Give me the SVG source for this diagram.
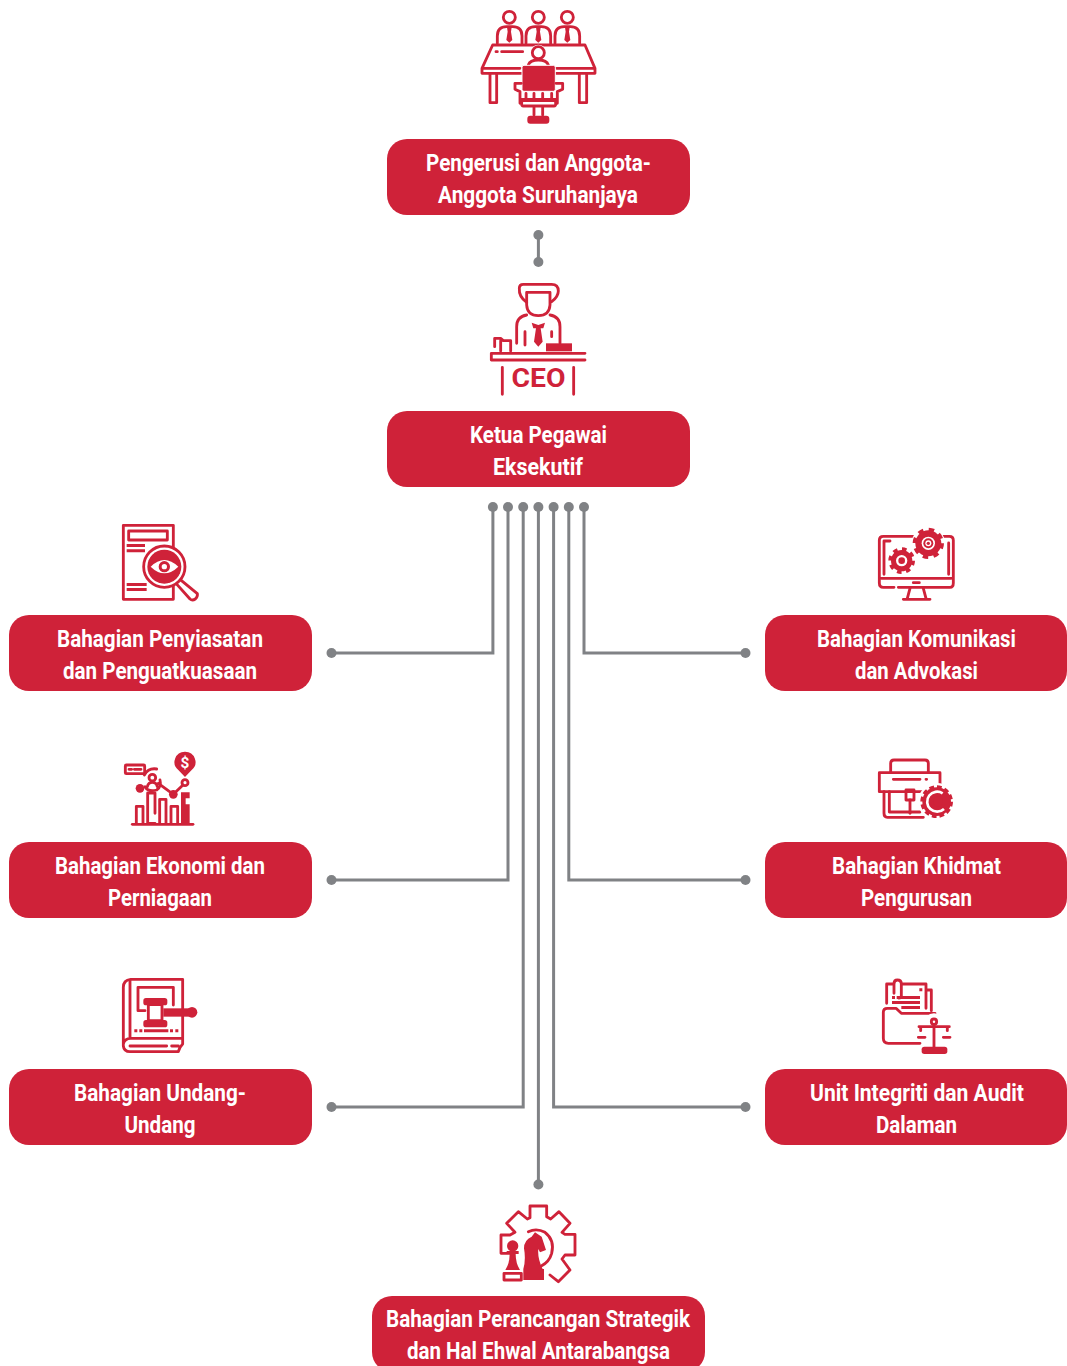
<svg xmlns="http://www.w3.org/2000/svg" width="1067" height="1366" viewBox="0 0 1067 1366">
<style>
.box{fill:#cf2239}
.t{font-family:Roboto,"Liberation Sans",sans-serif;font-weight:700;font-size:24px;fill:#fff;text-anchor:middle}
.c{fill:none;stroke:#808285;stroke-width:3}
.d{fill:#808285}
.i{fill:none;stroke:#cf2239;stroke-width:8.5;stroke-linejoin:round;stroke-linecap:round}
.f{fill:#cf2239}
.w{fill:#fff}
.wi{fill:#fff;stroke:#cf2239;stroke-width:8.5;stroke-linejoin:round}
</style>
<rect width="1067" height="1366" fill="#fff"/>
<g id="connectors">
<path class="c" d="M538.4 235V262M492.9 507V653H331.5M508 507V880H331.5M523.2 507V1107H331.5M538.4 507V1184.5M553.6 507V1107H745.5M568.8 507V880H745.5M584 507V653H745.5"/>
<g class="d">
<circle cx="538.4" cy="235" r="5"/><circle cx="538.4" cy="262" r="5"/>
<circle cx="492.9" cy="507" r="5"/><circle cx="508" cy="507" r="5"/><circle cx="523.2" cy="507" r="5"/><circle cx="538.4" cy="507" r="5"/><circle cx="553.6" cy="507" r="5"/><circle cx="568.8" cy="507" r="5"/><circle cx="584" cy="507" r="5"/>
<circle cx="331.5" cy="653" r="5"/><circle cx="331.5" cy="880" r="5"/><circle cx="331.5" cy="1107" r="5"/>
<circle cx="745.5" cy="653" r="5"/><circle cx="745.5" cy="880" r="5"/><circle cx="745.5" cy="1107" r="5"/>
<circle cx="538.4" cy="1184.5" r="5"/>
</g>
</g>
<g id="node-pengerusi">
<g transform="translate(470 0) scale(.3333)">
<circle class="i" cx="118" cy="52" r="18"/><circle class="i" cx="205" cy="52" r="18"/><circle class="i" cx="292" cy="52" r="18"/>
<path class="i" d="M82 130V108Q82 80 110 80H128Q156 80 156 108V130M168 130V108Q168 80 196 80H214Q242 80 242 108V130M255 130V108Q255 80 283 80H301Q329 80 329 108V130"/>
<path class="f" d="M111 82H125L123 95L127 120L118 128L109 120L113 95ZM198 82H212L210 95L214 120L205 128L196 120L200 95ZM285 82H299L297 95L301 120L292 128L283 120L287 95Z"/>
<path class="i" d="M68 135H345L375 205V220H36V205ZM36 205H150M260 205H372"/>
<path class="i" d="M60 222V308H80V222M328 222V308H350V222"/>
<path class="i" d="M78 155H82M95 155H158"/>
<circle cx="205" cy="158" r="24" class="w"/><circle class="i" cx="205" cy="158" r="18"/>
<path class="i" d="M175 195Q180 180 205 180Q230 180 235 195"/>
<rect class="f" x="156" y="196" width="100" height="78" rx="6" stroke="#fff" stroke-width="3"/>
<path class="i" d="M135 250H154M258 250H278M135 250V268L150 275V310M278 250V268L262 275V310M150 298H262"/>
<rect class="i" x="155" y="302" width="102" height="16" rx="5"/>
<path class="i" d="M168 280V298M192 280V298M218 280V298M245 280V298M192 322V345M218 322V345"/>
<rect class="f" x="172" y="347" width="66" height="24" rx="9"/>
</g>
<rect class="box" x="387" y="139" width="303" height="76" rx="20"/>
<text class="t" x="538.5" y="171" textLength="225" lengthAdjust="spacingAndGlyphs">Pengerusi dan Anggota-</text>
<text class="t" x="538" y="203" textLength="200" lengthAdjust="spacingAndGlyphs">Anggota Suruhanjaya</text>
</g>
<g id="node-ketua">
<g transform="translate(470 275) scale(.3333)">
<path class="i" d="M148 40Q148 28 160 28H245Q265 28 265 48Q265 65 245 80M148 40Q146 65 170 82M172 52H238"/>
<path class="i" d="M170 52V90Q172 122 205 122Q238 122 240 90V52"/>
<path class="i" d="M140 205V155Q140 125 170 120M270 205V155Q270 125 240 120M165 170V210M245 170V185"/>
<path class="f" d="M185 143L205 150L225 143L220 160H212L218 200L205 215L192 200L198 160H190Z"/>
<path class="i" d="M74 215V190H92L100 197H122V228M92 197V228"/>
<rect class="f" x="228" y="205" width="78" height="24"/>
<path class="i" d="M345 235H64V255H345"/>
<path class="i" d="M97 277V358M311 277V358"/>
</g>
<text x="538.5" y="386.5" font-family="Roboto,'Liberation Sans',sans-serif" font-weight="700" font-size="25" fill="#cf2239" text-anchor="middle" textLength="54" lengthAdjust="spacingAndGlyphs">CEO</text>
<rect class="box" x="387" y="411" width="303" height="76" rx="20"/>
<text class="t" x="538.5" y="443" textLength="137" lengthAdjust="spacingAndGlyphs">Ketua Pegawai</text>
<text class="t" x="538" y="475" textLength="90" lengthAdjust="spacingAndGlyphs">Eksekutif</text>
</g>
<g id="node-penyiasatan">
<g transform="translate(110 515) scale(.3333)">
<rect class="i" x="40" y="31" width="150" height="222"/>
<rect class="i" x="56" y="48" width="116" height="27"/>
<path class="f" d="M50 87H105V96H50ZM50 103H105V112H50ZM50 204H110V213H50ZM50 219H110V228H50Z"/>
<path d="M198 205L210 193L262 236Q264 245 256 252Q247 258 240 252Z" class="wi"/>
<circle class="wi" cx="163" cy="155" r="62"/>
<circle class="f" cx="163" cy="155" r="51"/>
<path class="w" d="M122 155Q163 115 205 155Q163 195 122 155Z"/>
<circle cx="163" cy="155" r="17" class="f"/><circle cx="163" cy="155" r="8" class="w"/>
</g>
<rect class="box" x="9" y="615" width="303" height="76" rx="20"/>
<text class="t" x="160" y="647" textLength="206" lengthAdjust="spacingAndGlyphs">Bahagian Penyiasatan</text>
<text class="t" x="160" y="679" textLength="194" lengthAdjust="spacingAndGlyphs">dan Penguatkuasaan</text>
</g>
<g id="node-komunikasi">
<g transform="translate(870 515) scale(.3333)">
<path class="i" d="M130 64H40Q28 64 28 76V204Q28 217 40 217H72M85 217H240Q250 217 250 204V76Q250 64 238 64H218M42 178V78H60M236 84V178M34 190H244"/>
<path class="i" d="M120 220L112 250M160 220L168 250M100 253H180M130 203H148"/>
<circle cx="95" cy="137" r="40" fill="#fff"/>
<circle cx="175" cy="85" r="50" fill="#fff"/>
<circle cx="95" cy="137" r="34" fill="none" stroke="#cf2239" stroke-width="12" stroke-dasharray="13.3 13.4"/>
<circle cx="95" cy="137" r="32" class="f"/>
<circle cx="95" cy="137" r="17" class="w"/>
<circle cx="95" cy="137" r="10" class="f"/>
<circle cx="175" cy="85" r="41" fill="none" stroke="#cf2239" stroke-width="12" stroke-dasharray="16.1 16.1"/>
<circle cx="175" cy="85" r="39" class="f"/>
<circle cx="175" cy="85" r="20" class="w"/>
<circle cx="175" cy="85" r="15" class="f"/>
<circle cx="175" cy="85" r="9" class="w"/>
<circle cx="175" cy="85" r="5" class="f"/>
</g>
<rect class="box" x="765" y="615" width="302" height="76" rx="20"/>
<text class="t" x="916.5" y="647" textLength="199" lengthAdjust="spacingAndGlyphs">Bahagian Komunikasi</text>
<text class="t" x="916.5" y="679" textLength="123" lengthAdjust="spacingAndGlyphs">dan Advokasi</text>
</g>
<g id="node-ekonomi">
<g transform="translate(115 745) scale(.3333)">
<path class="f" d="M210 20A31 31 0 0 1 230 75L210 96L190 75A31 31 0 0 1 210 20Z"/>
<text x="210" y="68" font-family="Roboto,sans-serif" font-weight="700" font-size="46" fill="#fff" text-anchor="middle">$</text>
<rect class="i" x="31" y="60" width="58" height="26" rx="3"/>
<path class="i" d="M42 73H50M58 73H78"/>
<path class="i" d="M90 125Q100 142 125 135Q140 125 135 105M88 90Q100 68 125 72"/>
<circle class="i" cx="112" cy="98" r="10"/>
<path class="i" d="M97 125Q100 112 112 112Q124 112 127 125"/>
<circle class="f" cx="75" cy="130" r="13"/>
<circle class="f" cx="175" cy="148" r="13"/>
<circle class="i" cx="210" cy="113" r="9"/>
<path class="i" d="M130 115L175 148L204 120"/>
<path class="i" d="M64 235V184H84V235M98 235V144H120V205M98 235H120M134 235V163H153V235M168 235V184H188V235"/>
<path class="f" d="M198 142H224V160H212V178H224V238H198Z"/>
<path class="i" d="M52 238H234"/>
</g>
<rect class="box" x="9" y="842" width="303" height="76" rx="20"/>
<text class="t" x="160" y="874" textLength="210" lengthAdjust="spacingAndGlyphs">Bahagian Ekonomi dan</text>
<text class="t" x="160" y="906" textLength="104" lengthAdjust="spacingAndGlyphs">Perniagaan</text>
</g>
<g id="node-khidmat">
<g transform="translate(870 750) scale(.3333)">
<path class="i" d="M28 68H210V125H28ZM62 68V40Q62 30 72 30H165Q175 30 175 40V68"/>
<path class="i" d="M42 125V190Q42 202 52 202H160M58 125V186H150M70 88H150M168 88H170"/>
<rect class="i" x="108" y="120" width="24" height="30" fill="#fff"/>
<path class="i" d="M120 150V190"/>
<circle cx="200" cy="155" r="56" fill="#fff"/>
<circle cx="200" cy="155" r="44" fill="none" stroke="#cf2239" stroke-width="10" stroke-dasharray="14 9"/>
<circle cx="200" cy="155" r="43" class="f"/>
<path d="M218 130A30 30 0 1 0 222 177" fill="none" stroke="#fff" stroke-width="8"/>
<circle cx="204" cy="155" r="15" class="f"/>
</g>
<rect class="box" x="765" y="842" width="302" height="76" rx="20"/>
<text class="t" x="916.5" y="874" textLength="169" lengthAdjust="spacingAndGlyphs">Bahagian Khidmat</text>
<text class="t" x="916.5" y="906" textLength="111" lengthAdjust="spacingAndGlyphs">Pengurusan</text>
</g>
<g id="node-undang">
<g transform="translate(110 970) scale(.3333)">
<path class="i" d="M218 28H62Q40 30 40 52V228Q42 245 60 245H205Q208 232 218 222V28ZM60 30V205M40 222Q44 205 62 205H218M60 228H170M185 228H205"/>
<path class="i" d="M84 122V52H190V105M84 122H105"/>
<rect class="i" x="115" y="104" width="41" height="48" fill="#fff"/>
<rect class="f" x="100" y="84" width="72" height="22" rx="8"/>
<rect class="f" x="100" y="150" width="72" height="22" rx="8"/>
<path class="f" d="M160 115H240V140H160Z"/>
<circle class="f" cx="246" cy="127" r="16"/>
<path class="f" d="M73 178H82V187H73ZM88 178H97V187H88ZM102 178H175V187H102ZM180 178H189V187H180ZM196 178H205V187H196Z"/>
</g>
<rect class="box" x="9" y="1069" width="303" height="76" rx="20"/>
<text class="t" x="160" y="1101" textLength="172" lengthAdjust="spacingAndGlyphs">Bahagian Undang-</text>
<text class="t" x="160" y="1133" textLength="71" lengthAdjust="spacingAndGlyphs">Undang</text>
</g>
<g id="node-integriti">
<g transform="translate(870 970) scale(.3333)">
<path class="i" d="M50 100V42H68M95 42H168V115M168 60H184V122"/>
<path class="i" d="M72 70V42Q72 30 82 30Q94 30 94 42V78Q94 84 86 84"/>
<path class="f" d="M148 55H157V64H148ZM66 78H75V87H66ZM80 78H150V87H80ZM66 93H150V102H66ZM94 108H150V117H94Z"/>
<path class="i" d="M195 130H94L78 115H52Q40 115 40 127V205Q40 220 55 220H150"/>
<circle cx="192" cy="160" r="30" fill="#fff"/>
<circle class="i" cx="192" cy="155" r="8"/>
<path class="i" d="M192 165V232M147 170H238M152 170V182M232 170V182M145 202H165M220 202H240"/>
<rect class="f" x="155" y="230" width="77" height="22" rx="8"/>
</g>
<rect class="box" x="765" y="1069" width="302" height="76" rx="20"/>
<text class="t" x="917" y="1101" textLength="214" lengthAdjust="spacingAndGlyphs">Unit Integriti dan Audit</text>
<text class="t" x="916.5" y="1133" textLength="81" lengthAdjust="spacingAndGlyphs">Dalaman</text>
</g>
<g id="node-perancangan">
<g transform="translate(490 1195) scale(.3333)">
<path class="i" d="M60 175H33V120H60L75 112L50 85L85 50L112 72L120 68V33H170V65L182 72L207 50L240 85L216 112L225 118H255V180H225L216 192L240 225L205 260L180 240"/>
<path class="i" d="M115 110Q140 98 165 112Q195 135 185 175Q178 200 155 212"/>
<path class="f" d="M102 160Q102 135 125 125L135 112L155 125L168 165L150 172L145 162Q142 190 158 222H162V255H100V222Q108 195 102 160Z"/>
<circle class="f" cx="68" cy="153" r="17"/>
<path class="f" d="M50 168H86V177H77Q77 205 90 225H46Q59 205 59 177H50Z"/>
<path class="i" d="M42 235H94V255H42Z"/>
</g>
<rect class="box" x="372" y="1296" width="333" height="76" rx="20"/>
<text class="t" x="538" y="1327" textLength="304" lengthAdjust="spacingAndGlyphs">Bahagian Perancangan Strategik</text>
<text class="t" x="538.5" y="1359" textLength="263" lengthAdjust="spacingAndGlyphs">dan Hal Ehwal Antarabangsa</text>
</g>
</svg>
